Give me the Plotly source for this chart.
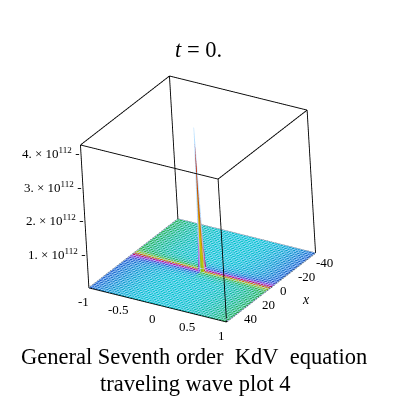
import numpy as np
import plotly.graph_objects as go

# values
x_range = [-50, 50]
y_range = [-1, 1]
n_grid = 49
spike_x = 0.0
spike_y = 0.0
spike_height = 4.24e112
z_unit = 1e112

x_ticks = [-40, -20, 0, 20, 40]
x_ticktext = ["-40", "-20", "0", "20", "40"]
y_ticks = [-1, -0.5, 0, 0.5, 1]
y_ticktext = ["-1", "-0.5", "0", "0.5", "1"]
z_ticks = [1e112, 2e112, 3e112, 4e112]
z_ticktext = ["1. × 10<sup>112</sup>", "2. × 10<sup>112</sup>",
              "3. × 10<sup>112</sup>", "4. × 10<sup>112</sup>"]

title_text = "<i>t</i> = 0."
caption_1 = "General Seventh order&nbsp; KdV&nbsp; equation"
caption_2 = "traveling wave plot 4"

# sampled surface: flat except for the blow-up point
x_grid = np.linspace(x_range[0], x_range[1], n_grid)
y_grid = np.linspace(y_range[0], y_range[1], n_grid)
Z = np.zeros((n_grid, n_grid))
iy = int(np.argmin(np.abs(y_grid - spike_y)))
ix = int(np.argmin(np.abs(x_grid - spike_x)))
Z[iy, ix] = spike_height
Zs = Z / z_unit

# maple-like hue shading (style only)
X, Y = np.meshgrid(x_grid, y_grid)
w = np.exp(-np.abs(X - spike_x) / 3.0)
m = (180 - 58 * np.abs(Y) ** 2.5) * (1 - w)

ring = [[0, "rgb(225,0,0)"], [1 / 6, "rgb(250,235,0)"], [2 / 6, "rgb(40,215,70)"],
        [3 / 6, "rgb(0,232,235)"], [4 / 6, "rgb(40,100,235)"],
        [5 / 6, "rgb(235,20,235)"], [1, "rgb(225,0,0)"]]

fig = go.Figure()
step = (x_range[1] - x_range[0]) / (n_grid - 1)
ystep = (y_range[1] - y_range[0]) / (n_grid - 1)
mesh_col = "rgba(0,40,80,0.28)"
for sx, xs in [(-1, slice(0, ix + 1)), (1, slice(ix, n_grid))]:
    for sy, ys in [(-1, slice(0, iy + 1)), (1, slice(iy, n_grid))]:
        hue = m[ys, xs] if sx * sy > 0 else 360 - m[ys, xs]
        fig.add_trace(go.Surface(
            x=x_grid[xs], y=y_grid[ys], z=Zs[ys, xs],
            surfacecolor=hue, cmin=0, cmax=360, colorscale=ring,
            showscale=False, hoverinfo="skip",
            lighting=dict(ambient=0.85, diffuse=0.35, specular=0.1,
                          roughness=0.8, fresnel=0),
            lightposition=dict(x=50000, y=-100000, z=50000),
            contours=dict(
                x=dict(show=True, start=x_range[0], end=x_range[1], size=step,
                       color=mesh_col, width=1, highlight=False),
                y=dict(show=True, start=y_range[0], end=y_range[1], size=ystep,
                       color=mesh_col, width=1, highlight=False),
                z=dict(highlight=False)),
        ))

# dark red crest line
fig.add_trace(go.Scatter3d(x=[spike_x, spike_x], y=y_range, z=[0, 0], mode="lines",
                           line=dict(color="rgb(170,20,20)", width=2),
                           hoverinfo="skip", showlegend=False))

# bounding box edges
x0, x1 = x_range
y0, y1 = y_range
z0, z1 = 0, spike_height / z_unit
bx, by, bz = [], [], []
for a, b in [((x0, y0), (x1, y0)), ((x1, y0), (x1, y1)), ((x1, y1), (x0, y1)), ((x0, y1), (x0, y0))]:
    for zz in (z0, z1):
        bx += [a[0], b[0], None]
        by += [a[1], b[1], None]
        bz += [zz, zz, None]
for cx in (x0, x1):
    for cy in (y0, y1):
        bx += [cx, cx, None]
        by += [cy, cy, None]
        bz += [z0, z1, None]
fig.add_trace(go.Scatter3d(x=bx, y=by, z=bz, mode="lines",
                           line=dict(color="black", width=1.8),
                           hoverinfo="skip", showlegend=False))

# tick labels as flat text next to the axes
lab_font = dict(family="Liberation Serif", size=13, color="black")
scene_notes = []
for v, t in zip(z_ticks, z_ticktext):
    scene_notes.append(dict(x=x1, y=y0, z=v / z_unit, text=t + " -", showarrow=False,
                            xanchor="right", yanchor="middle", xshift=1, font=lab_font))
for v, t in zip(y_ticks, y_ticktext):
    scene_notes.append(dict(x=x1, y=v, z=0, text=t, showarrow=False,
                            xanchor="center", yanchor="top", xshift=-5, yshift=-4, font=lab_font))
for v, t in zip(x_ticks, x_ticktext):
    scene_notes.append(dict(x=v, y=y1, z=0, text=t, showarrow=False,
                            xanchor="left", yanchor="middle", xshift=7, yshift=-3, font=lab_font))
scene_notes.append(dict(x=0, y=y1, z=0, text="<i>x</i>", showarrow=False,
                        xanchor="center", yanchor="middle", xshift=35, yshift=-12,
                        font=dict(family="Liberation Serif", size=14, color="black")))

axis_common = dict(showbackground=False, showgrid=False, zeroline=False,
                   showspikes=False, ticks="", showticklabels=False, showline=False,
                   title=dict(text=""))

az, el, k = np.radians(34), np.radians(27.5), 2.5
tilt = np.tan(np.radians(3))
fig.update_layout(
    width=400, height=400,
    margin=dict(l=0, r=0, t=0, b=0),
    paper_bgcolor="white",
    showlegend=False,
    scene=dict(
        domain=dict(x=[0, 0.95], y=[0.045, 1]),
        aspectmode="manual",
        aspectratio=dict(x=0.87, y=0.855, z=0.845),
        xaxis=dict(range=x_range, **axis_common),
        yaxis=dict(range=y_range, **axis_common),
        zaxis=dict(range=[z0, z1], **axis_common),
        camera=dict(eye=dict(x=k * np.cos(el) * np.cos(az),
                             y=k * np.cos(el) * np.sin(az),
                             z=k * np.sin(el)),
                    up=dict(x=-tilt * np.sin(az), y=tilt * np.cos(az), z=1),
                    center=dict(x=0, y=0, z=0),
                    projection=dict(type="orthographic")),
        annotations=scene_notes,
    ),
    annotations=[
        dict(text=title_text, x=0.476, y=0.895, xref="paper", yref="paper",
             xanchor="center", yanchor="middle", showarrow=False,
             font=dict(family="Liberation Serif", size=22.5, color="black")),
        dict(text=caption_1, x=0.464, y=0.13, xref="paper", yref="paper",
             xanchor="center", yanchor="middle", showarrow=False,
             font=dict(family="Liberation Serif", size=22.5, color="black")),
        dict(text=caption_2, x=0.4675, y=0.0625, xref="paper", yref="paper",
             xanchor="center", yanchor="middle", showarrow=False,
             font=dict(family="Liberation Serif", size=22.5, color="black")),
    ],
)

fig.write_html("out.html")
